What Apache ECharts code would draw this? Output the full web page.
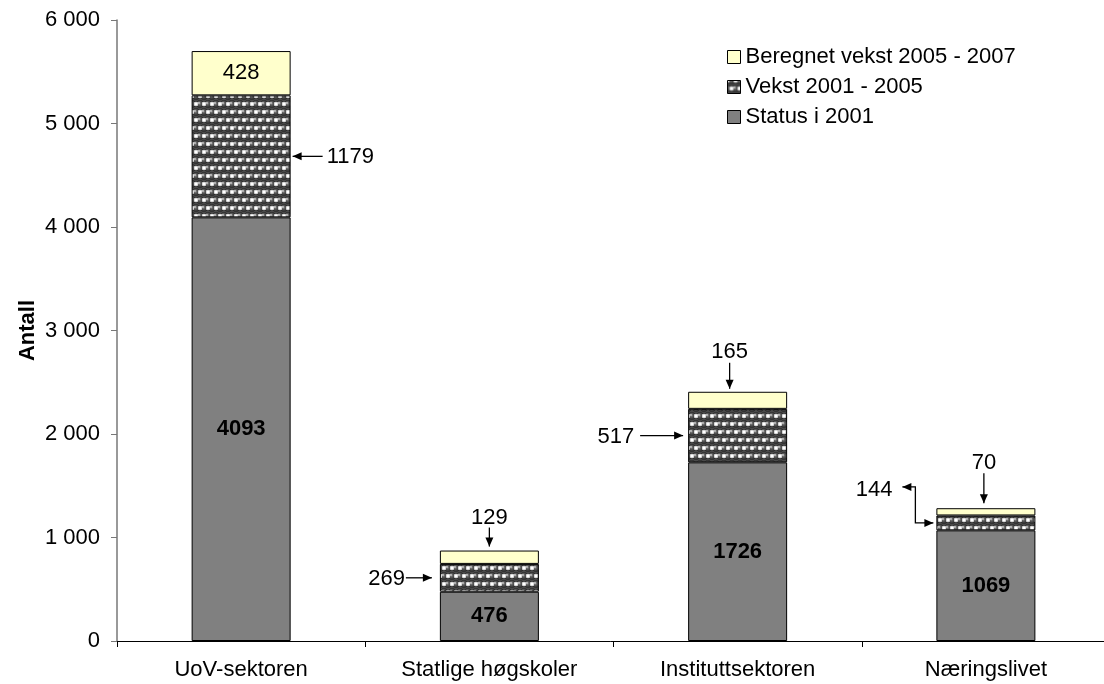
<!DOCTYPE html>
<html>
<head>
<meta charset="utf-8">
<script src="https://cdn.jsdelivr.net/npm/echarts@6/dist/echarts.min.js"></script>
<style>
html,body{margin:0;padding:0;background:#fff;}
#main{width:1104px;height:684px;}
</style>
</head>
<body>
<div id="main"></div>
<script>
// ---- data ----
const categories = ['UoV-sektoren', 'Statlige høgskoler', 'Instituttsektoren', 'Næringslivet'];
const status2001 = [4093, 476, 1726, 1069];
const vekst2001_2005 = [1179, 269, 517, 144];
const beregnet2005_2007 = [428, 129, 165, 70];
const seriesNames = ['Status i 2001', 'Vekst 2001 - 2005', 'Beregnet vekst 2005 - 2007'];
const yMin = 0, yMax = 6000, yStep = 1000;

// ---- styles ----
const FONT = 'Liberation Sans, Arial, Helvetica, sans-serif';
const FS = 22;

function makeSpherePattern() {
  const W = 8, H = 16;
  const c = document.createElement('canvas');
  c.width = W; c.height = H;
  const g = c.getContext('2d');
  g.fillStyle = '#4a4a4a';
  g.fillRect(0, 0, W, H);
  const spheres = [[4, 0], [0, 8]];
  const whites = [[0, 0], [4, 8]];
  const offs = [-W, 0, W];
  const offsY = [-H, 0, H];
  for (const [x0, y0] of spheres) {
    for (const ox of offs) for (const oy of offsY) {
      const cx = x0 + ox, cy = y0 + oy;
      const grd = g.createRadialGradient(cx - 1.2, cy - 1.2, 0.2, cx, cy, 3.8);
      grd.addColorStop(0, '#e0e0e0');
      grd.addColorStop(0.35, '#666');
      grd.addColorStop(1, '#222');
      g.fillStyle = grd;
      g.beginPath();
      g.arc(cx, cy, 3.8, 0, Math.PI * 2);
      g.fill();
    }
  }
  g.fillStyle = '#ffffff';
  for (const [x0, y0] of whites) {
    for (const ox of offs) for (const oy of offsY) {
      g.fillRect(x0 + ox - 1.8, y0 + oy - 1.8, 3.6, 3.6);
    }
  }
  return c;
}
const spherePattern = { image: makeSpherePattern(), repeat: 'repeat' };

const barW = 99;
const chart = echarts.init(document.getElementById('main'));

const statusData = status2001.map(v => ({
  value: v,
  label: { show: true, position: 'inside', fontWeight: 'bold', fontSize: FS, fontFamily: FONT, color: '#000' }
}));
const vekstData = vekst2001_2005.map(v => ({ value: v }));
const beregnetData = beregnet2005_2007.map((v, i) => ({
  value: v,
  label: { show: i === 0, position: 'inside', fontSize: FS, fontFamily: FONT, color: '#000' }
}));

const option = {
  animation: false,
  backgroundColor: '#fff',
  grid: { left: 117, top: 20, width: 993, height: 621, containLabel: false, outerBoundsMode: 'none' },
  legend: {
    orient: 'vertical',
    left: 722,
    top: 41,
    itemWidth: 13,
    itemHeight: 13,
    itemGap: 8,
    icon: 'rect',
    data: [seriesNames[2], seriesNames[1], seriesNames[0]],
    itemStyle: { borderColor: '#000', borderWidth: 1 },
    textStyle: { fontSize: FS, fontFamily: FONT, color: '#000', lineHeight: 22 }
  },
  xAxis: {
    type: 'category',
    data: categories,
    axisLine: { lineStyle: { color: '#000', width: 1 } },
    axisTick: { show: true, length: 6, lineStyle: { color: '#000' } },
    axisLabel: { fontSize: FS, fontFamily: FONT, color: '#000', margin: 18 }
  },
  yAxis: {
    type: 'value',
    min: yMin, max: yMax, interval: yStep,
    name: 'Antall',
    nameLocation: 'middle',
    nameGap: 78,
    nameMoveOverlap: false,
    nameTextStyle: { fontSize: FS, fontFamily: FONT, fontWeight: 'bold', color: '#000' },
    axisLine: { show: true, lineStyle: { color: '#777', width: 1.5 } },
    axisTick: { show: true, length: 6, lineStyle: { color: '#777' } },
    splitLine: { show: false },
    axisLabel: {
      fontSize: FS, fontFamily: FONT, color: '#000', margin: 17,
      formatter: v => String(v).replace(/\B(?=(\d{3})+(?!\d))/g, ' ')
    }
  },
  series: [
    {
      name: seriesNames[0], type: 'bar', stack: 'total', barWidth: barW,
      itemStyle: { color: '#808080', borderColor: '#000', borderWidth: 1 },
      data: statusData
    },
    {
      name: seriesNames[1], type: 'bar', stack: 'total', barWidth: barW,
      itemStyle: { color: spherePattern, borderColor: '#000', borderWidth: 1 },
      data: vekstData
    },
    {
      name: seriesNames[2], type: 'bar', stack: 'total', barWidth: barW,
      itemStyle: { color: '#FFFFCC', borderColor: '#000', borderWidth: 1 },
      data: beregnetData
    }
  ]
};
chart.setOption(option);

// ---- annotation arrows (positions derived from the axes) ----
function px(catIdx, value) {
  return chart.convertToPixel({ gridIndex: 0 }, [catIdx, value]);
}
const els = [];
const LINE = { stroke: '#000', lineWidth: 1.3 };
function head(tip, from) {
  const dx = tip[0] - from[0], dy = tip[1] - from[1];
  const L = Math.hypot(dx, dy) || 1;
  const ux = dx / L, uy = dy / L;
  const bl = 9, hw = 4;
  const bx = tip[0] - ux * bl, by = tip[1] - uy * bl;
  els.push({
    type: 'polygon', silent: true,
    shape: { points: [tip, [bx - uy * hw, by + ux * hw], [bx + uy * hw, by - ux * hw]] },
    style: { fill: '#000' }
  });
}
function arrow(points, both) {
  els.push({ type: 'polyline', silent: true, shape: { points: points }, style: Object.assign({ fill: null }, LINE) });
  const n = points.length;
  head(points[n - 1], points[n - 2]);
  if (both) head(points[0], points[1]);
}
function label(text, x, y, align) {
  els.push({
    type: 'text', silent: true,
    style: { text: String(text), x: x, y: y, font: FS + 'px ' + FONT, fill: '#000', textAlign: align, textVerticalAlign: 'middle' }
  });
}

const half = barW / 2;
categories.forEach((c, i) => {
  const cx = px(i, 0)[0];
  const left = cx - half, right = cx + half;
  const ymid = px(i, status2001[i] + vekst2001_2005[i] / 2)[1];
  const top = px(i, status2001[i] + vekst2001_2005[i] + beregnet2005_2007[i])[1];
  const v = vekst2001_2005[i], b = beregnet2005_2007[i];
  if (i === 0) {
    arrow([[right + 32, ymid], [right + 2, ymid]]);
    label(v, right + 36, ymid + 1, 'left');
  } else if (i === 1) {
    arrow([[left - 34, ymid], [left - 8, ymid]]);
    label(v, left - 35, ymid + 1, 'right');
    arrow([[cx, top - 23], [cx, top - 4]]);
    label(b, cx, top - 33, 'center');
  } else if (i === 2) {
    arrow([[left - 48, ymid], [left - 5, ymid]]);
    label(v, left - 54, ymid + 1, 'right');
    arrow([[cx - 8, top - 29], [cx - 8, top - 3]]);
    label(b, cx - 8, top - 40, 'center');
  } else {
    arrow([[left - 34, ymid - 36], [left - 21, ymid - 36], [left - 21, ymid], [left - 3, ymid]], true);
    label(v, left - 44, ymid - 33, 'right');
    arrow([[cx - 2, top - 35], [cx - 2, top - 5]]);
    label(b, cx - 2, top - 45, 'center');
  }
});
chart.setOption({ graphic: els });
</script>
</body>
</html>
